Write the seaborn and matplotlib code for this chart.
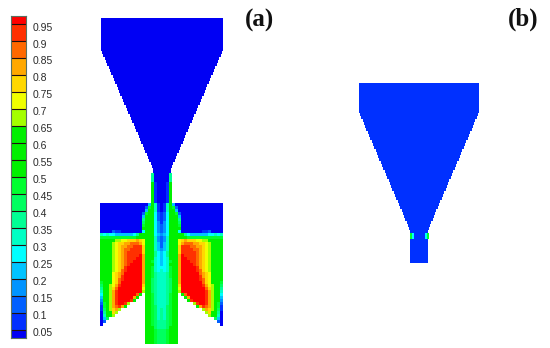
import numpy as np
import seaborn as sns
import matplotlib.pyplot as plt
from matplotlib.colors import ListedColormap

W, H = 550, 348

# contour band colours, lowest to highest
band_colors = ["#0000f4", "#0030ff", "#0060ff", "#0094ff", "#00c4ff", "#00ffff",
               "#00ffc4", "#00ff94", "#00ff60", "#00ff30", "#00f000", "#00f000",
               "#00f000", "#a4ff00", "#f0ff00", "#ffd800", "#ffa800", "#ff6800",
               "#ff3000", "#ff0000"]
band_labels = ["0.95", "0.9", "0.85", "0.8", "0.75", "0.7", "0.65", "0.6", "0.55", "0.5",
               "0.45", "0.4", "0.35", "0.3", "0.25", "0.2", "0.15", "0.1", "0.05"]

# half widths of the hopper in panel a, px, one entry per 3 px row
a_hopper = [61, 61, 61, 61, 61, 61, 61, 61, 61, 61, 61,
            60, 59, 57, 56, 55, 53, 52, 51, 49, 48, 47, 45, 44, 43, 42, 40, 39, 38, 36, 35,
            34, 32, 31, 30, 28, 27, 26, 24, 23, 22, 21, 19, 18, 17, 15, 14, 13, 11, 10, 9, 9]

# half widths of panel b, px, one entry per 3 px row
b_hopper = [60, 60, 60, 60, 60, 60, 60, 60, 60, 60,
            59, 58, 56, 55, 54, 53, 51, 50, 49, 47, 46, 45, 43, 42, 41, 40, 38, 37, 36, 34,
            33, 32, 30, 29, 28, 27, 25, 24, 23, 21, 20, 19, 17, 16, 15, 14, 12, 11, 10,
            9, 9, 9, 9, 9, 9, 9, 9, 9, 9, 9]
b_spot_rows = [50, 51]
b_spot_levels = [9, 5]

# left half of the lower part of panel a, a..t = band, . = outside, 3 px cells
a_lower = [
    ".................haaa",
    ".................haaa",
    ".................haaa",
    ".................kbaa",
    ".................kbaa",
    ".................kbaa",
    ".................kbaa",
    ".................kbaa",
    ".................kbaa",
    ".................kbaa",
    "aaaaaaaaaaaaaaaaekgba",
    "aaaaaaaaaaaaaaacjlgba",
    "aaaaaaaaaaaaaaaeklgba",
    "aaaaaaaaaaaaaacjllfcb",
    "aaaaaaaaaaaaaaekllfcb",
    "aaaaaaaaaaaaaahlllfcb",
    "aaaaaaaaaaaaaailmlfdb",
    "aaaaaaaaaaaaaajmmkfdc",
    "aaaaaaaaaaaaaakmmkfdc",
    "aaaacbbaaaaaaafmmkfdc",
    "gfgffeeeeeefhkmmmkfed",
    "jjjjjjjjjjjjklmmmkgdc",
    "mmmmmnnoopppqpomlkgdc",
    "mmmmnoppqqrrrqomlkgec",
    "mmmmnopqqrrssspmlkgec",
    "mmmmnopqrrsssspmlkged",
    "mmmmnopqrssssspmlkhfe",
    "mmmmnopqrsssstqmlkhfe",
    "mmmmnopqrsssttqmlkgfe",
    "mmmmnopqrsstttqmljgfe",
    "mmmmnopqrsttttqmlkgfe",
    "lmmmnopqstttttqmkjgff",
    "lmmmnoprstttttqmkjgfg",
    "lmmmopqrttttttqmkjhgg",
    "kmmmopqsttttttqmkjhgg",
    "kmmmoprsttttttqmkihgg",
    "jmmmoprtttttttqlkihgg",
    "ilmnoqstttttttplkihgg",
    "hlmnprttttttttolkihgg",
    "gkmnqsttttttttnlkihgg",
    "fkmnqsttttttrl.lkjhgg",
    "ekmnqstttttql..mkjhgg",
    "dkmnqsttttsl...mkjhgg",
    "cjmnqsttsn.....mkjhgg",
    "bjmnqrsqm......mkjigg",
    "bimnpqn........mkjigh",
    "ahmmpn.........mkjigh",
    "agkmn..........mkjigh",
    "aei............mkjigh",
    "ac.............mkjihh",
    "a..............mkjihh",
    "...............mkkihh",
    "...............mlkjii",
    "...............mlkjii",
    "...............mlkjii",
    "...............mlkjii",
    "...............mlkjii",
]

band_cmap = ListedColormap(band_colors)
band_chars = "abcdefghijklmnopqrst"


def px_axes(fig, x0, y0, x1, y1):
    # axes from a box in picture pixels, y counted from the top
    return fig.add_axes([x0 / W, 1 - y1 / H, (x1 - x0) / W, (y1 - y0) / H])


def draw_cells(ax, cells):
    sns.heatmap(cells, ax=ax, cmap=band_cmap, vmin=-0.5, vmax=19.5, cbar=False,
                mask=np.isnan(cells), xticklabels=False, yticklabels=False)
    ax.set_facecolor("white")


def hopper_cells(half_widths, half, level):
    cells = np.full((len(half_widths), 2 * half), np.nan)
    for row, hw in enumerate(half_widths):
        cells[row, half - hw:half + hw] = level
    return cells


sns.set_theme(style="white")
plt.rcParams["font.family"] = ["Liberation Sans", "DejaVu Sans"]
fig = plt.figure(figsize=(W / 100, H / 100), dpi=100, facecolor="white")

# colour scale: 38 half bands, end bands are one half band high
scale_rows = [19] + [b for b in range(18, 0, -1) for _ in (0, 1)] + [0]
ax = px_axes(fig, 11, 16, 26, 338)
draw_cells(ax, np.array(scale_rows, dtype=float).reshape(-1, 1))
edges = np.arange(1, len(scale_rows), 2)
ax.hlines(edges, 0, 1, color="#201010", lw=0.8)
ax.yaxis.tick_right()
ax.set_yticks(edges + 0.25)
ax.set_yticklabels(band_labels, rotation=0, fontsize=7.5, color="#2a2a2a")
ax.tick_params(axis="y", length=0, pad=4.5, right=False, labelright=True)
for side in ax.spines.values():
    side.set_visible(True)
    side.set_color("#5a7060")
    side.set_linewidth(0.8)

# panel a
ax = px_axes(fig, 100.5, 18, 222.5, 18 + 3 * len(a_hopper))
draw_cells(ax, hopper_cells(a_hopper, 61, 0))

lower = np.array([[band_chars.find(c) for c in row] for row in a_lower], dtype=float)
lower[lower < 0] = np.nan
lower = np.hstack([lower, lower[:, -2::-1]])
ax = px_axes(fig, 100, 173, 223, 173 + 3 * len(a_lower))
draw_cells(ax, lower)

# panel b
b_cells = hopper_cells(b_hopper, 60, 1)
for row in b_spot_rows:
    for col, level in enumerate(b_spot_levels):
        b_cells[row, 51 + col * 2:53 + col * 2] = level
        b_cells[row, 68 - col * 2:70 - col * 2] = level
ax = px_axes(fig, 358.5, 83, 478.5, 83 + 3 * len(b_hopper))
draw_cells(ax, b_cells)

fig.text(259.5 / W, 1 - 20 / H, "(a)", family="Liberation Serif", weight="bold", fontsize=18,
         ha="center", va="center", color="#111111")
fig.text(523.5 / W, 1 - 19 / H, "(b)", family="Liberation Serif", weight="bold", fontsize=18,
         ha="center", va="center", color="#111111")

fig.savefig("out.png", dpi=100)
